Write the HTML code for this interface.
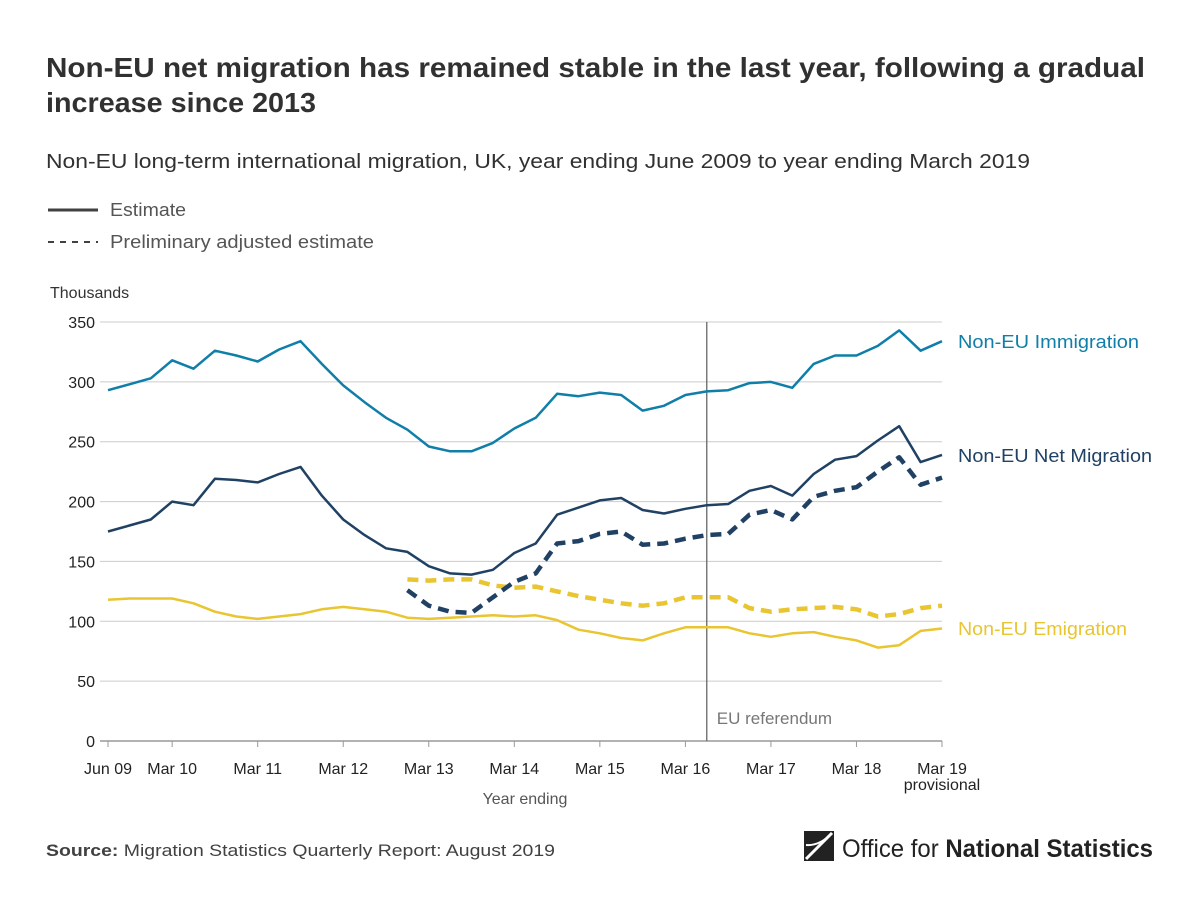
<!DOCTYPE html>
<html><head><meta charset="utf-8"><style>
body{margin:0;background:#fff;font-family:"Liberation Sans",sans-serif;}
svg text{font-family:"Liberation Sans",sans-serif;}
</style></head><body>
<svg id="chart" width="1200" height="902" viewBox="0 0 1200 902">
<text x="46" y="77" font-size="28" font-weight="bold" fill="#323132" textLength="1099" lengthAdjust="spacingAndGlyphs">Non-EU net migration has remained stable in the last year, following a gradual</text>
<text x="46" y="112" font-size="28" font-weight="bold" fill="#323132" textLength="270" lengthAdjust="spacingAndGlyphs">increase since 2013</text>
<text x="46" y="168" font-size="20" fill="#323132" textLength="984" lengthAdjust="spacingAndGlyphs">Non-EU long-term international migration, UK, year ending June 2009 to year ending March 2019</text>
<g>
<line x1="48" y1="210" x2="98" y2="210" stroke="#414042" stroke-width="3"/>
<text x="110" y="216" font-size="18" fill="#555" textLength="76" lengthAdjust="spacingAndGlyphs">Estimate</text>
<line x1="48" y1="242" x2="98" y2="242" stroke="#414042" stroke-width="2" stroke-dasharray="6,6"/>
<text x="110" y="248" font-size="18" fill="#555" textLength="264" lengthAdjust="spacingAndGlyphs">Preliminary adjusted estimate</text>
</g>
<text x="50" y="298" font-size="16" fill="#333">Thousands</text>
<g id="grid"></g><g id="ylabels"></g><g id="xlabels"></g><g id="series"></g>
<text x="525" y="804" font-size="16" fill="#555" text-anchor="middle">Year ending</text>
<text x="46" y="856" font-size="17" fill="#414042" textLength="509" lengthAdjust="spacingAndGlyphs"><tspan font-weight="bold">Source:</tspan> Migration Statistics Quarterly Report: August 2019</text>
<g>
<rect x="804" y="831" width="30" height="30" fill="#222"/>
<path d="M806 859 L832 833" stroke="#fff" stroke-width="3"/>
<path d="M806 845 Q820 846 832 833" stroke="#fff" stroke-width="2" fill="none"/>
<text x="842" y="857" font-size="25" fill="#222" textLength="311" lengthAdjust="spacingAndGlyphs">Office for <tspan font-weight="bold">National Statistics</tspan></text>
</g>
</svg>
<script>
const xLabels=["Jun 09","Mar 10","Mar 11","Mar 12","Mar 13","Mar 14","Mar 15","Mar 16","Mar 17","Mar 18","Mar 19"];
const xLabelIdx=[0,3,7,11,15,19,23,27,31,35,39];
const yTicks=[0,50,100,150,200,250,300,350];
const immigration=[293,298,303,318,311,326,322,317,327,334,315,297,283,270,260,246,242,242,249,261,270,290,288,291,289,276,280,289,292,293,299,300,295,315,322,322,330,343,326,334];
const netMigration=[175,180,185,200,197,219,218,216,223,229,205,185,172,161,158,146,140,139,143,157,165,189,195,201,203,193,190,194,197,198,209,213,205,223,235,238,251,263,233,239];
const emigration=[118,119,119,119,115,108,104,102,104,106,110,112,110,108,103,102,103,104,105,104,105,101,93,90,86,84,90,95,95,95,90,87,90,91,87,84,78,80,92,94];
const prelimStart=14;
const prelimNet=[126,113,108,107,120,133,140,165,167,173,175,164,165,169,172,173,189,193,185,204,209,212,225,237,214,220];
const prelimEmig=[135,134,135,135,130,128,129,125,121,118,115,113,115,120,120,120,111,108,110,111,112,110,104,106,111,113];
const euRefIdx=28;
const NS="http://www.w3.org/2000/svg";
const X0=108,X1=942,Y0=741,Y1=322,N=40,YMAX=350;
const xs=i=>X0+i*(X1-X0)/(N-1);
const ys=v=>Y0-v*(Y0-Y1)/YMAX;
function mk(tag,attrs,parent){const e=document.createElementNS(NS,tag);for(const k in attrs)e.setAttribute(k,attrs[k]);document.getElementById(parent).appendChild(e);return e;}
yTicks.forEach(t=>{
 const l=mk('line',{x1:X0-8,x2:X1,y1:ys(t),y2:ys(t),stroke:t===0?'#999':'#ccc','stroke-width':t===0?1.5:1},'grid');
 
 
 const tx=mk('text',{x:95,y:ys(t)+6,'font-size':16,fill:'#222','text-anchor':'end'},'ylabels');
 tx.textContent=t;
 
 
});
xLabelIdx.forEach((idx,k)=>{
 const x=xs(idx);
 const tk=mk('line',{x1:x,x2:x,y1:Y0,y2:Y0+6,stroke:'#999'},'xlabels');
 
 
 const tx=mk('text',{x:x,y:774,'font-size':16,fill:'#222','text-anchor':'middle'},'xlabels');
 tx.textContent=xLabels[k];
 
 
});
const pv=mk('text',{x:xs(39),y:790,'font-size':16,fill:'#222','text-anchor':'middle'},'xlabels');
pv.textContent='provisional';


const er=mk('line',{x1:xs(euRefIdx),x2:xs(euRefIdx),y1:Y1,y2:Y0,stroke:'#666','stroke-width':1.3},'series');


const et=mk('text',{x:xs(euRefIdx)+10,y:724,'font-size':17,fill:'#777'},'series');
et.textContent='EU referendum';


function line(arr,start,color,dash,w,name){
 const d=arr.map((v,i)=>(i?'L':'M')+xs(i+start).toFixed(1)+' '+ys(v).toFixed(1)).join(' ');
 const p=mk('path',{d:d,fill:'none',stroke:color,'stroke-width':w,'stroke-linejoin':'round'},'series');
 if(dash)p.setAttribute('stroke-dasharray',dash);
 
 
}
line(prelimEmig,prelimStart,'#e8c531','11,7',4.5,'emigration-preliminary-line');
line(emigration,0,'#e8c531',null,2.5,'emigration-line');
line(prelimNet,prelimStart,'#204164','11,7',4.5,'net-migration-preliminary-line');
line(netMigration,0,'#204164',null,2.5,'net-migration-line');
line(immigration,0,'#0f7ea8',null,2.5,'immigration-line');
function lab(t,y,c,n,w){const e=mk('text',{x:958,y:y,'font-size':18.5,fill:c,textLength:w,lengthAdjust:'spacingAndGlyphs'},'series');e.textContent=t;
 
 }
lab('Non-EU Immigration',348,'#0f7ea8','immigration-label',181);
lab('Non-EU Net Migration',462,'#204164','net-migration-label',194);
lab('Non-EU Emigration',635,'#e8c531','emigration-label',169);
</script>
</body></html>
